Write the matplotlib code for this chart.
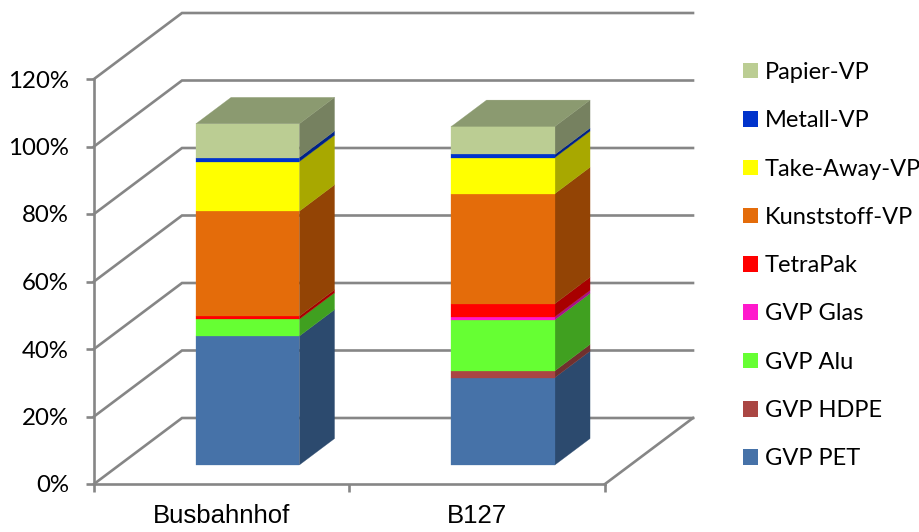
import matplotlib
matplotlib.use("Agg")
from matplotlib import pyplot as plt
from matplotlib.patches import Patch

# values, in percent
categories = ["Busbahnhof", "B127"]
series = ["GVP PET", "GVP HDPE", "GVP Alu", "GVP Glas", "TetraPak",
          "Kunststoff-VP", "Take-Away-VP", "Metall-VP", "Papier-VP"]
busbahnhof = [38.2, 0.0, 5.0, 0.0, 0.9, 31.1, 14.7, 1.2, 10.0]
b127 = [25.9, 2.0, 15.1, 0.9, 3.9, 32.6, 10.7, 0.9, 8.3]
y_ticks = [0, 20, 40, 60, 80, 100, 120]
y_labels = ["0%", "20%", "40%", "60%", "80%", "100%", "120%"]

front_colors = ["#4672A8", "#AA4643", "#66FF33", "#FF19CC", "#FF0000",
                "#E46C0A", "#FFFF00", "#0033CC", "#BBCD93"]
side_colors = ["#2C4A6E", "#70302E", "#40A020", "#A81088", "#A80000",
               "#934405", "#A8A800", "#002288", "#768160"]
top_color = "#8B9A70"
line_color = "#868686"

# size of the full floor depth in data units
DEPTH_X = 88 / 255.5
DEPTH_Y = 66 / 3.375
# where the bars start and end along the depth, and their width
BAR_NEAR = 0.288
BAR_FAR = 0.688
BAR_WIDTH = 0.405

fig = plt.figure(figsize=(9.2, 5.32), dpi=100)
ax = fig.add_axes([94 / 920, (532 - 484) / 532, 511 / 920, 405 / 532])
ax.set_xlim(0, 2)
ax.set_ylim(0, 120)


def shift(x, y, d):
    """Move a point of the front plane back by depth d."""
    return x + d * DEPTH_X, y + d * DEPTH_Y


def face(points, color):
    xs = [p[0] for p in points]
    ys = [p[1] for p in points]
    ax.fill(xs, ys, color=color, lw=0.2, clip_on=False, zorder=3)


# walls, behind the bars
for val in y_ticks:
    x_back, y_back = shift(0, val, 1)
    x_end, y_end = shift(2, val, 1)
    ax.plot([0, x_back, x_end], [val, y_back, y_end], color=line_color,
            lw=1.9, clip_on=False, solid_joinstyle="miter", zorder=1)
x_end, y_end = shift(2, 0, 1)
ax.plot([2, x_end], [0, y_end], color=line_color, lw=1.9, clip_on=False, zorder=1)

# bars, bottom segment first
for i, values in enumerate([busbahnhof, b127]):
    left = i + 0.502 - BAR_WIDTH / 2
    right = i + 0.502 + BAR_WIDTH / 2
    bottom = 0
    for val, c_front, c_side in zip(values, front_colors, side_colors):
        top = bottom + val
        if val > 0:
            face([shift(right, bottom, BAR_NEAR), shift(right, bottom, BAR_FAR),
                  shift(right, top, BAR_FAR), shift(right, top, BAR_NEAR)], c_side)
            face([shift(left, bottom, BAR_NEAR), shift(right, bottom, BAR_NEAR),
                  shift(right, top, BAR_NEAR), shift(left, top, BAR_NEAR)], c_front)
        bottom = top
    face([shift(left, bottom, BAR_NEAR), shift(right, bottom, BAR_NEAR),
          shift(right, bottom, BAR_FAR), shift(left, bottom, BAR_FAR)], top_color)

# axes
for name in ["top", "right"]:
    ax.spines[name].set_visible(False)
for name in ["left", "bottom"]:
    ax.spines[name].set_color(line_color)
    ax.spines[name].set_linewidth(1.9)
ax.set_yticks(y_ticks)
ax.set_yticklabels(y_labels, fontfamily="Lato", fontsize=17.3)
ax.tick_params(axis="y", color=line_color, width=1.9, length=5.5, pad=12.5)
ax.set_xticks([0, 1, 2])
ax.set_xticklabels([])
ax.tick_params(axis="x", which="major", color=line_color, width=1.9, length=5.5)
ax.set_xticks([0.5, 1.5], minor=True)
ax.set_xticklabels(categories, minor=True, fontfamily="Liberation Sans", fontsize=18.5)
ax.tick_params(axis="x", which="minor", length=0, pad=14.5)

# legend, top entry first
handles = [Patch(facecolor=c, edgecolor=c, lw=0) for c in front_colors[::-1]]
ax.legend(handles, series[::-1], loc="upper left", frameon=False,
          bbox_to_anchor=(743 / 920, (532 - 62) / 532), bbox_transform=fig.transFigure,
          borderaxespad=0, borderpad=0, handlelength=0.635, handleheight=0.635,
          handletextpad=0.3, labelspacing=1.156,
          prop={"family": "Lato", "size": 17})

fig.savefig("out.png", dpi=100)
